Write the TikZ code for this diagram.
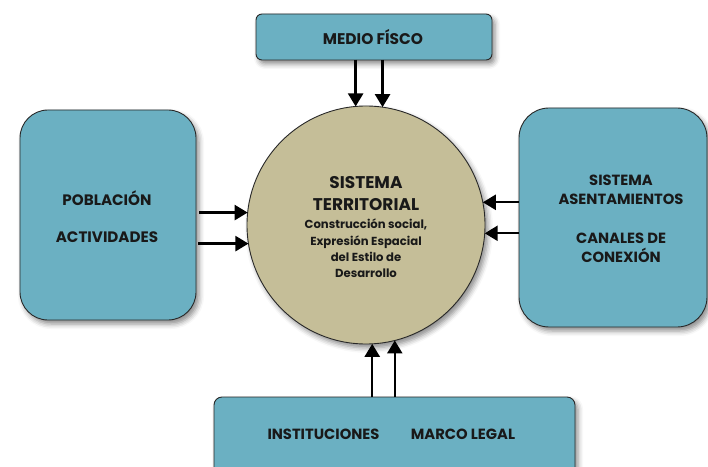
\documentclass[tikz,border=0pt]{standalone}
\usepackage{fontspec}
\setmainfont{Poppins}
\usetikzlibrary{arrows.meta,shadows.blur}
\definecolor{boxfill}{RGB}{107,176,194}
\definecolor{circfill}{RGB}{197,190,152}
\definecolor{edge}{RGB}{40,40,40}
\definecolor{txt}{RGB}{25,25,25}
\tikzset{
  panel/.style={draw=edge, line width=0.9bp, fill=boxfill, outer sep=0pt, inner sep=0pt,
    blur shadow={shadow xshift=3bp, shadow yshift=-4bp, shadow blur radius=5bp, shadow opacity=45}},
  hub/.style={circle, draw=edge, line width=0.9bp, fill=circfill, outer sep=0pt, inner sep=0pt,
    minimum size=238bp,
    blur shadow={shadow xshift=3bp, shadow yshift=-4bp, shadow blur radius=5bp, shadow opacity=45}},
  lbl/.style={text=txt, font=\bfseries, align=center, inner sep=0pt},
  link/.style={line width=2.4bp, -{Triangle[length=13bp,width=15bp]}}
}
\begin{document}
\begin{tikzpicture}[x=1bp,y=-1bp]
\useasboundingbox (0,0) rectangle (708,467);
% boxes
\node[panel, rounded corners=6bp, minimum width=236bp, minimum height=46bp] (top) at (374,37) {};
\node[panel, rounded corners=28bp, minimum width=176bp, minimum height=210bp] (left) at (108,215) {};
\node[panel, rounded corners=30bp, minimum width=188bp, minimum height=219bp] (right) at (613,217.5) {};
\node[panel, rounded corners=8bp, minimum width=361bp, minimum height=100bp] (bottom) at (394.5,447) {};
\node[hub] (hub) at (366,225) {};
% labels
\node[lbl, font=\bfseries\fontsize{15.5}{18}\selectfont] (ttop) at (373,37) {MEDIO FÍSCO};
\node[lbl, font=\bfseries\fontsize{15.2}{37}\selectfont] (tleft) at (107,216.5) {POBLACIÓN\\ACTIVIDADES};
\node[lbl, font=\bfseries\fontsize{14.8}{19}\selectfont] (tright) at (621,218.5) {SISTEMA\\ASENTAMIENTOS\\[20bp]CANALES DE\\CONEXIÓN};
\node[lbl, font=\bfseries\fontsize{14.8}{18}\selectfont] (tinst) at (323.5,434) {INSTITUCIONES};
\node[lbl, font=\bfseries\fontsize{14.8}{18}\selectfont] (tlegal) at (463,434) {MARCO LEGAL};
\node[lbl, font=\bfseries\fontsize{17}{23}\selectfont] (thub1) at (366,193.5) {SISTEMA\\TERRITORIAL};
\node[lbl, font=\bfseries\fontsize{11.7}{16.3}\selectfont] (thub2) at (366,248.5) {Construcción social,\\Expresión Espacial\\del Estilo de\\Desarrollo};
% connectors
\draw[link] (hub.95 |- top.south) -- (hub.95);
\draw[link] (hub.82 |- top.south) -- (hub.82);
\draw[link, shorten <=3bp] (hub.174 -| left.east) -- (hub.174);
\draw[link, shorten <=2bp] (hub.189 -| left.east) -- (hub.189);
\draw[link] (hub.11 -| right.west) -- (hub.11);
\draw[link] (hub.356 -| right.west) -- (hub.356);
\draw[link] (hub.273 |- bottom.north) -- (hub.273);
\draw[link] (hub.284 |- bottom.north) -- (hub.284);
\end{tikzpicture}
\end{document}
